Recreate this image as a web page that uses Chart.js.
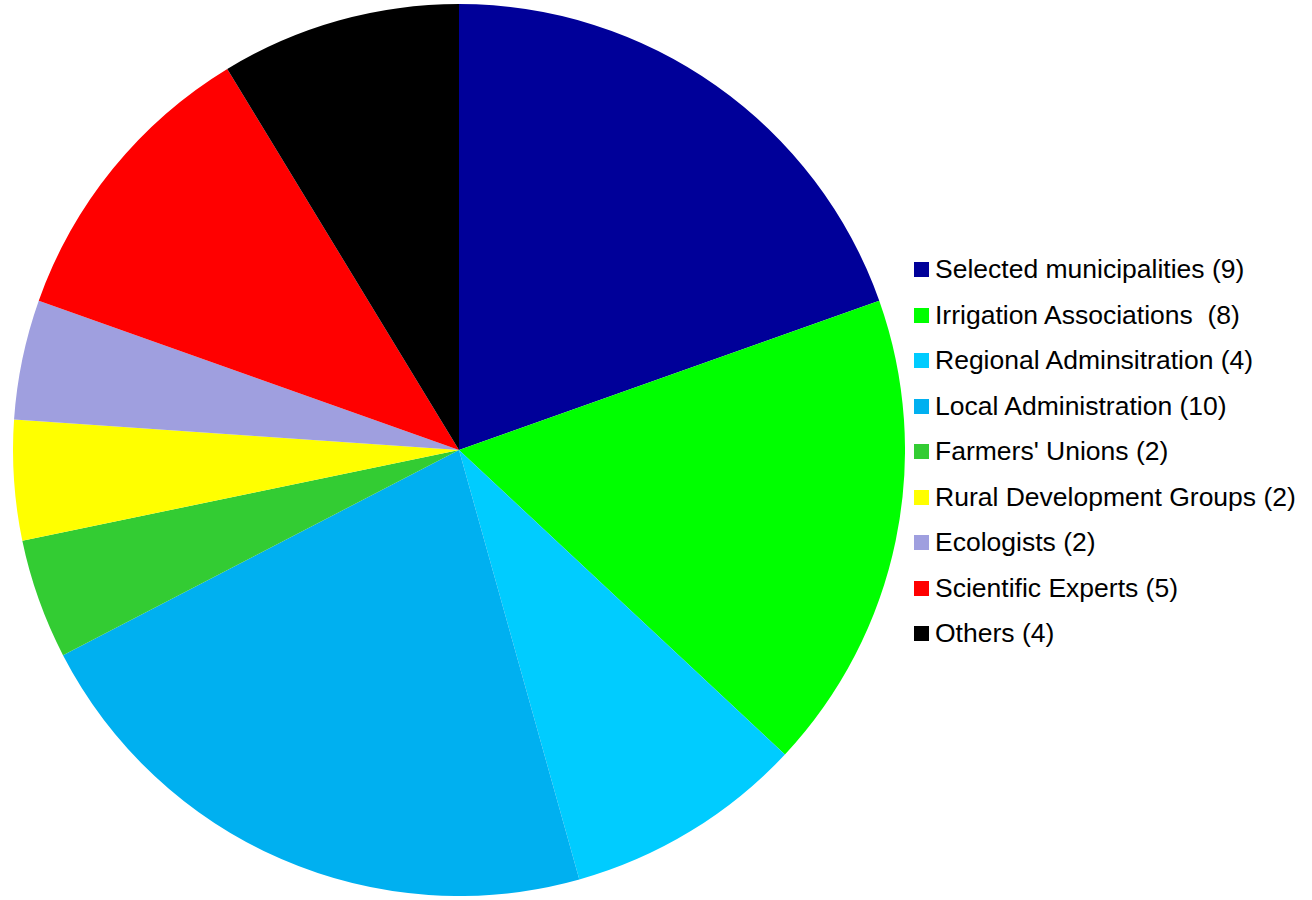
<!DOCTYPE html>
<html>
<head>
<meta charset="utf-8">
<script src="https://cdn.jsdelivr.net/npm/chart.js@4"></script>
<style>
  html, body { margin: 0; padding: 0; background: #ffffff; }
  body { width: 1312px; height: 900px; position: relative; overflow: hidden; font-family: "Liberation Sans", Arial, sans-serif; }
  #wrap { position: absolute; left: 13px; top: 4px; width: 892px; height: 892px; }
  #legend { position: absolute; left: 914px; top: 247px; margin: 0; padding: 0; list-style: none; }
  #legend li { height: 45.5px; display: flex; align-items: center; font-size: 26.5px; color: #000; white-space: pre; }
  #legend .sw { width: 15px; height: 15px; margin-right: 6px; flex: none; }
</style>
</head>
<body>
<div id="wrap"><canvas id="c"></canvas></div>
<ul id="legend"></ul>
<script>
const categories = [
  "Selected municipalities (9)",
  "Irrigation Associations  (8)",
  "Regional Adminsitration (4)",
  "Local Administration (10)",
  "Farmers' Unions (2)",
  "Rural Development Groups (2)",
  "Ecologists (2)",
  "Scientific Experts (5)",
  "Others (4)"
];
const values = [9, 8, 4, 10, 2, 2, 2, 5, 4];
const colors = ["#000099", "#00FF00", "#00CCFF", "#00B0F0", "#33CC33", "#FFFF00", "#9F9FDF", "#FF0000", "#000000"];

new Chart(document.getElementById('c'), {
  type: 'pie',
  data: {
    labels: categories,
    datasets: [{ data: values, backgroundColor: colors, borderWidth: 0 }]
  },
  options: {
    responsive: true,
    maintainAspectRatio: false,
    animation: false,
    layout: { padding: 0 },
    plugins: { legend: { display: false }, tooltip: { enabled: false } }
  }
});

const ul = document.getElementById('legend');
categories.forEach((t, i) => {
  const li = document.createElement('li');
  const sw = document.createElement('span');
  sw.className = 'sw';
  sw.style.background = colors[i];
  li.appendChild(sw);
  li.appendChild(document.createTextNode(t));
  ul.appendChild(li);
});
</script>
</body>
</html>
